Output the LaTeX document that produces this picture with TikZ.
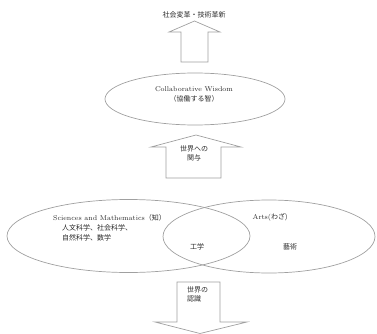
\documentclass[tikz,border=0pt]{standalone}
\usepackage{fontspec}
\newfontfamily\cjk{Noto Sans CJK JP}
\usetikzlibrary{shapes.geometric}
\definecolor{linegray}{HTML}{A0A0A0}
\definecolor{txt}{HTML}{2A2A2A}
\tikzset{
  shapeline/.style={draw=linegray, line width=0.7pt},
  oval/.style={shapeline, ellipse, inner sep=0pt},
  lbl/.style={text=txt, font=\fontsize{7}{8.5}\selectfont, inner sep=0pt, align=center},
  blockarrow/.style={shapeline, line join=miter}
}
\begin{document}
\begin{tikzpicture}[x=1pt,y=-1pt]
\useasboundingbox (0,0) rectangle (377,334);
% top arrow
\draw[blockarrow] (181,62) -- (181,32) -- (169,32) -- (194.5,21) -- (220,32) -- (208,32) -- (208,62) -- cycle;
\node[lbl] (top) at (194,14.5) {\cjk 社会変革・技術革新};
% collaborative wisdom
\node[oval, minimum width=180pt, minimum height=52pt] (cw) at (195,99) {};
\node[lbl] (cwt) at (194,89) {Collaborative Wisdom};
\node[lbl] (cwj) at (194,98.5) {\cjk （協働する智）};
% middle arrow
\draw[blockarrow] (166,178) -- (166,147) -- (151,147) -- (196,135) -- (241,147) -- (221,147) -- (221,178) -- cycle;
\node[lbl] (mid) at (194,153.5) {\cjk 世界への\\[1pt]\cjk 関与};
% venn
\node[oval, minimum width=243pt, minimum height=73pt] (sci) at (128.5,236) {};
\node[oval, minimum width=212pt, minimum height=73pt] (arts) at (269,236.5) {};
\node[lbl, anchor=west] (scit) at (53,218) {Sciences and Mathematics\cjk （知）};
\node[lbl, anchor=west] (sci2) at (62,228) {\cjk 人文科学、社会科学、};
\node[lbl, anchor=west] (sci3) at (62,237.5) {\cjk 自然科学、数学};
\node[lbl] (eng) at (197,247) {\cjk 工学};
\node[lbl] (artt) at (270,217) {Arts(\cjk わざ)};
\node[lbl] (art2) at (290,247) {\cjk 藝術};
% bottom arrow
\draw[blockarrow] (177,282) -- (220,282) -- (220,322) -- (247,322) -- (200,333.5) -- (155,322) -- (177,322) -- cycle;
\node[lbl, anchor=north west, align=left] (bot) at (187,286) {\cjk 世界の\\[1pt]\cjk 認識};
\end{tikzpicture}
\end{document}
